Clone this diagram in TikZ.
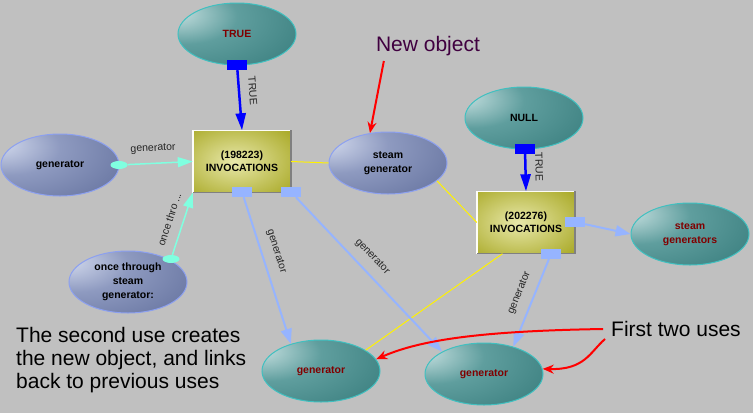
\documentclass[tikz,border=0pt]{standalone}
\usepackage{fontspec}
\setmainfont{Liberation Sans}
\usetikzlibrary{shapes.geometric,arrows.meta,positioning}
\definecolor{bggray}{RGB}{192,192,192}
\definecolor{teallight}{RGB}{205,228,228}
\definecolor{tealmid}{RGB}{95,158,158}
\definecolor{tealdark}{RGB}{45,115,115}
\definecolor{tealrim}{RGB}{64,192,192}
\definecolor{slatelight}{RGB}{215,222,240}
\definecolor{slatemid}{RGB}{142,154,192}
\definecolor{slatedark}{RGB}{88,102,148}
\definecolor{slaterim}{RGB}{140,160,240}
\definecolor{olivelight}{RGB}{232,232,170}
\definecolor{olivedark}{RGB}{160,160,20}
\definecolor{portblue}{RGB}{0,0,255}
\definecolor{linkblue}{RGB}{150,180,255}
\definecolor{aqua}{RGB}{128,255,224}
\definecolor{textred}{RGB}{128,0,0}
\definecolor{notepurple}{RGB}{64,0,64}
\pgfdeclareradialshading{tealgloss}{\pgfpoint{-28bp}{18bp}}{color(0bp)=(teallight); color(22bp)=(tealmid); color(60bp)=(tealdark); color(100bp)=(tealdark)}
\pgfdeclareradialshading{slategloss}{\pgfpoint{-28bp}{18bp}}{color(0bp)=(slatelight); color(22bp)=(slatemid); color(60bp)=(slatedark); color(100bp)=(slatedark)}
\pgfdeclareradialshading{olivegloss}{\pgfpoint{-4bp}{0bp}}{color(0bp)=(olivelight); color(42bp)=(olivedark); color(100bp)=(olivedark)}

\tikzset{
  tealnode/.style={ellipse, draw=tealrim, line width=1pt, shading=tealgloss,
    minimum width=118pt, minimum height=62pt, inner sep=0pt, align=center,
    text=textred, font=\fontsize{10.5}{14}\selectfont\bfseries},
  slatenode/.style={tealnode, draw=slaterim, shading=slategloss, text=black},
  invbox/.style={rectangle, shading=olivegloss, minimum width=98pt,
    minimum height=62pt, inner sep=0pt, align=center,
    font=\fontsize{10.5}{13}\selectfont\bfseries},
  boxlit/.style={white!92!olivelight, line width=1.5pt},
  boxdim/.style={gray, line width=1.5pt},
  port/.style={rectangle, fill=#1, minimum width=20pt, minimum height=10pt, inner sep=0pt},
  tail/.style={ellipse, fill=aqua, minimum width=17pt, minimum height=8pt, inner sep=0pt},
  truelink/.style={portblue, line width=2.5pt, -{Triangle[length=17pt,width=10pt]}},
  genlink/.style={linkblue, line width=2pt, -{Triangle[length=15pt,width=11pt]}},
  aqualink/.style={aqua, line width=1.5pt, -{Triangle[length=15pt,width=10pt]}},
  nolink/.style={yellow, line width=1pt},
  callout/.style={red, line width=2pt, -{Stealth[length=11pt,width=9pt]}},
  lbl/.style={font=\fontsize{10.5}{12}\selectfont, text=black!85, sloped, above,
    inner sep=1pt, outer sep=9pt},
  note/.style={font=\fontsize{21}{23}\selectfont, align=left, inner sep=0pt},
}

\begin{document}
\begin{tikzpicture}[x=1pt,y=-1pt]
  \path[use as bounding box, fill=bggray] (0,0) rectangle (753,413);

  % objects
  \node[tealnode] (truev) at (237,34) {TRUE};
  \node[tealnode, text=black] (nullv) at (524,118) {NULL};
  \node[slatenode] (genl) at (60,165) {generator};
  \node[slatenode] (steam) at (388,163) {steam\\generator};
  \node[slatenode] (once) at (128,282) {once through\\steam\\generator:};
  \node[tealnode] (steams) at (690,234) {steam\\generators};
  \node[tealnode] (gen1) at (321,371) {generator};
  \node[tealnode] (gen2) at (484,374) {generator};

  % invocation boxes
  \node[invbox] (inv1) at (242,161.5) {(198223)\\INVOCATIONS};
  \node[invbox] (inv2) at (526,222.5) {(202276)\\INVOCATIONS};
  \foreach \b in {inv1,inv2} {
    \draw[boxlit] (\b.south west) -- (\b.north west) -- (\b.north east);
    \draw[boxdim] (\b.north east) -- (\b.south east) -- (\b.south west);
  }

  % ports and tails
  \node[port=portblue] (truep) at (237,65) {};
  \node[port=portblue] (nullp) at (525,149) {};
  \node[port=linkblue] (inv1a) at (242,192) {};
  \node[port=linkblue] (inv1b) at (291,192) {};
  \node[port=linkblue] (inv2r) at (575,222) {};
  \node[port=linkblue] (inv2b) at (551,254) {};
  \node[tail] (genlt) at (119,165) {};
  \node[tail] (oncet) at (171,259) {};

  % links
  \draw[nolink] (inv1.east) -- (steam.west);
  \draw[nolink] (steam.-20) -- (inv2.west);
  \draw[nolink] (inv2.-127) -- (gen1.25);
  \draw[truelink] (truep) -- node[lbl, pos=0.36] {TRUE} (inv1.north);
  \draw[truelink] (nullp) -- node[lbl, pos=0.35] {TRUE} (inv2.north);
  \draw[aqualink] (genlt) -- node[lbl, pos=0.4] {generator} (inv1.west);
  \draw[aqualink] (oncet) -- node[lbl] {once thro ...} (inv1.south west);
  \draw[genlink] (inv1a) -- node[lbl, pos=0.4] {generator} (gen1.138);
  \draw[genlink] (inv1b) -- node[lbl, pos=0.45] {generator} (gen2.152);
  \draw[genlink] (inv2b) -- node[lbl, pos=0.45] {generator} (gen2.43);
  \draw[genlink] (inv2r) -- (steams.west);

  % notes
  \node[note, text=notepurple] (newobj) at (428,46) {New object};
  \node[note] (firsttwo) at (676,329) {First two uses};
  \node[note, anchor=north west] (secondnote) at (16,327)
    {The second use creates\\the new object, and links\\back to previous uses};
  \draw[callout] ([shift={(8,5)}]newobj.south west) -- (steam.121);
  \draw[callout] ([xshift=-8pt]firsttwo.west)
    .. controls (480,331) and (420,340) .. (gen1.12);
  \draw[callout] ([shift={(-6,10)}]firsttwo.west)
    .. controls (590,352) and (585,370) .. (gen2.5);
\end{tikzpicture}
\end{document}
